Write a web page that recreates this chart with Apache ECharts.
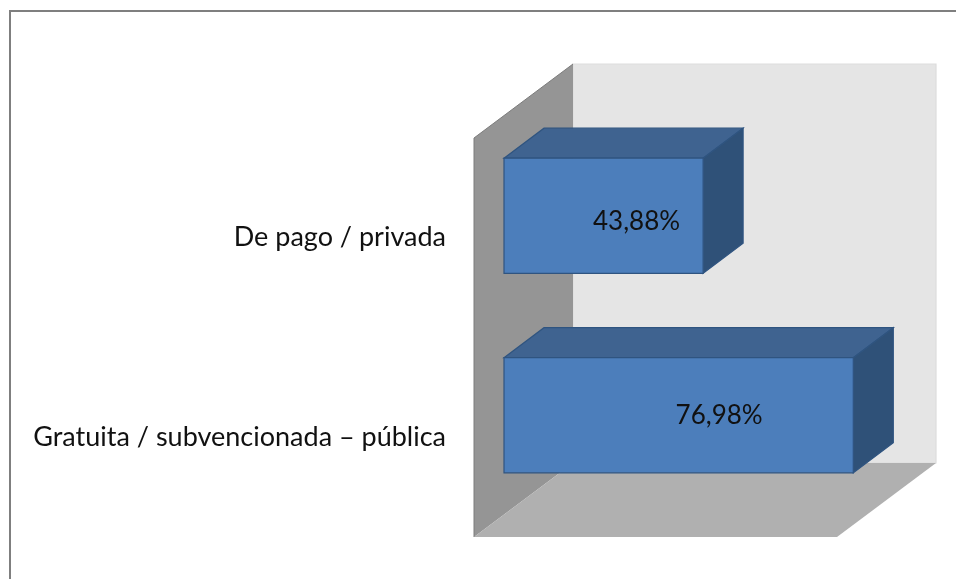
<!DOCTYPE html>
<html><head><meta charset="utf-8">
<style>html,body{margin:0;padding:0;background:#fff}#c{width:956px;height:579px}</style>
<script src="https://cdn.jsdelivr.net/npm/echarts@6/dist/echarts.min.js"></script>
</head><body><div id="c"></div>
<script>
var categories = ['Gratuita / subvencionada – pública', 'De pago / privada'];
var values = [76.98, 43.88];
var labels = ['76,98%', '43,88%'];
var axisMax = 80;

var labelShift = [[40.5, 0.5], [33, 6]];
var chart = echarts.init(document.getElementById('c'), null, {renderer: 'canvas'});

function poly(points, fill, stroke, z2) {
  return {type: 'polygon', z2: z2 || 0, shape: {points: points},
    style: {fill: fill, stroke: stroke || fill, lineWidth: stroke ? 1.2 : 0}};
}

// walls drawn relative to the grid's plot rectangle
function renderWalls(params, api) {
  var cs = params.coordSys, L = cs.x, T = cs.y, R = cs.x + cs.width, B = cs.y + cs.height;
  var f = [-30, 22], b = [69, -52];
  var p = function (x, y, o) { return [x + o[0], y + o[1]]; };
  return {type: 'group', children: [
    poly([p(L, T, b), p(R, T, b), p(R, B, b), p(L, B, b)], '#e5e5e5', '#dddddd'),
    poly([p(L, T, f), p(L, T, b), p(L, B, b), p(L, B, f)], '#959595'),
    poly([p(L, B, f), p(L, B, b), p(R, B, b), p(R, B, f)], '#b0b0b0'),
    {type: 'line', shape: {x1: p(L, T, f)[0], y1: p(L, T, f)[1], x2: p(L, T, b)[0], y2: p(L, T, b)[1]}, style: {stroke: '#7c7c7c', lineWidth: 1}},
    {type: 'line', shape: {x1: p(L, T, f)[0], y1: p(L, T, f)[1], x2: p(L, B, f)[0], y2: p(L, B, f)[1]}, style: {stroke: '#7c7c7c', lineWidth: 1}}
  ]};
}

function renderBar(params, api) {
  var v = api.value(0), idx = api.value(1);
  var start = api.coord([0, idx]), end = api.coord([v, idx]);
  var h = api.size([0, 1])[1] * 0.577, dx = 40, dy = -30;
  var x0 = start[0], x1 = end[0], t = end[1] - h / 2, bt = end[1] + h / 2;
  var line = '#2f5480';
  return {type: 'group', children: [
    poly([[x0, t], [x0 + dx, t + dy], [x1 + dx, t + dy], [x1, t]], '#3f6390', line),
    poly([[x1, t], [x1 + dx, t + dy], [x1 + dx, bt + dy], [x1, bt]], '#2f5178', line),
    poly([[x0, t], [x1, t], [x1, bt], [x0, bt]], '#4c7ebb', line)
  ]};
}

chart.setOption({
  animation: false,
  backgroundColor: '#ffffff',
  grid: {left: 504, top: 116, width: 363, height: 399, containLabel: false},
  xAxis: {type: 'value', min: 0, max: axisMax, show: false},
  yAxis: {
    type: 'category', data: categories,
    axisLine: {show: false}, axisTick: {show: false}, splitLine: {show: false},
    axisLabel: {margin: 58, fontFamily: 'Lato, "Open Sans", sans-serif', fontSize: 27, color: '#111111', verticalAlign: 'top', lineHeight: 44}
  },
  graphic: [
    {type: 'line', silent: true, shape: {x1: 9, y1: 11, x2: 956, y2: 11}, style: {stroke: '#7f7f7f', lineWidth: 2}},
    {type: 'line', silent: true, shape: {x1: 10, y1: 10, x2: 10, y2: 579}, style: {stroke: '#7f7f7f', lineWidth: 2}}
  ],
  series: [
    {type: 'custom', coordinateSystem: 'cartesian2d', silent: true, z: 1,
     renderItem: renderWalls, data: [[0, 0]], encode: {x: 0, y: 1}},
    {type: 'custom', coordinateSystem: 'cartesian2d', silent: true, z: 2,
     renderItem: renderBar,
     data: values.map(function (v, i) { return [v, i]; }), encode: {x: 0, y: 1},
     label: {show: false}},
    {type: 'bar', silent: true, z: 3, barWidth: 115,
     data: values.map(function (v, i) { return {value: v, label: {formatter: labels[i], offset: labelShift[i]}}; }),
     itemStyle: {color: 'rgba(0,0,0,0)'},
     label: {show: true, position: 'inside',
       fontFamily: 'Lato, "Open Sans", sans-serif', fontSize: 26, color: '#111111'}}
  ]
});
</script></body></html>
